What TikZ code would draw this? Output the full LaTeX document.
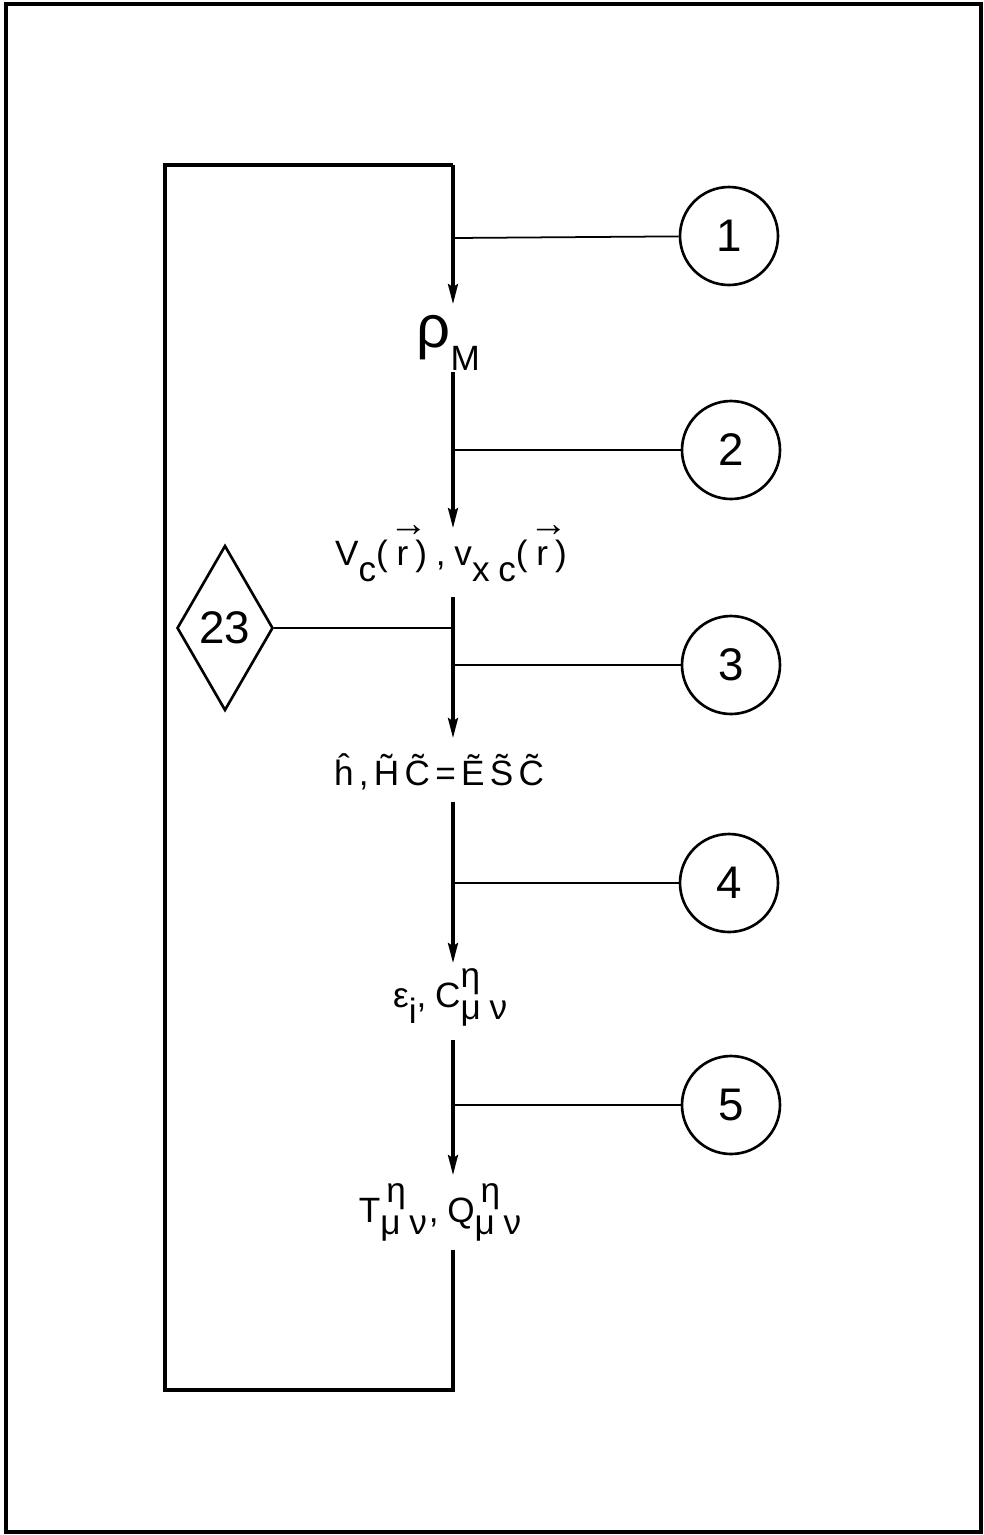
\documentclass[tikz,border=0pt]{standalone}
\usepackage{fontspec}
\setmainfont{Liberation Sans}
\usetikzlibrary{arrows.meta,shapes.geometric}
\newcommand\vr{\makebox[0pt][l]{\hspace{-0.2em}\raisebox{1.55ex}{\fontsize{11}{11}\selectfont →}}r}
\begin{document}
\begin{tikzpicture}[x=0.01cm,y=-0.01cm,
  mainline/.style={line width=0.9pt},
  flowarrow/.style={mainline,-{Stealth[length=20*0.01cm,width=10*0.01cm,inset=3*0.01cm]}},
  link/.style={line width=0.5pt},
  numcircle/.style={draw,circle,line width=0.75pt,minimum size=98*0.01cm,inner sep=0pt,font=\fontsize{13}{13}\selectfont},
  qty/.style={inner sep=0pt,anchor=base,font=\fontsize{10}{12}\selectfont\addfontfeature{LetterSpace=25}},
  refdiamond/.style={draw,diamond,line width=0.75pt,minimum width=96*0.01cm,minimum height=165*0.01cm,inner sep=0pt,aspect=0.58,font=\fontsize{13}{13}\selectfont}]
\useasboundingbox (0,0) rectangle (984,1535);
\draw[line width=1pt] (6,4) rectangle (981,1532);
% loop corners
\coordinate (tl) at (165,165);
\coordinate (tr) at (453,165);
\coordinate (bl) at (165,1390);
\coordinate (br) at (453,1390);
% quantities
\node[qty,anchor=base west] (rho) at (416,347) {\fontsize{17}{17}\selectfont ρ\raisebox{-0.75ex}{\fontsize{10}{12}\selectfont M}};
\node[qty] (vc) at (451,565) {V\raisebox{-0.9ex}{c}(\hspace{0.25em}\vr\hspace{0.2em}),v\raisebox{-0.9ex}{xc}(\hspace{0.25em}\vr\hspace{0.2em})};
\node[qty,font=\fontsize{10}{12}\selectfont\addfontfeature{LetterSpace=15}] (h) at (439,785) {\^{h},\~{H}\~{C}=\~{E}\~{S}\~{C}};
\node[qty] (eps) at (451,1007) {ε\raisebox{-0.9ex}{i},C$^{\mbox{η}}_{\mbox{μν}}$};
\node[qty] (tq) at (441,1222) {T$^{\mbox{\,η}}_{\mbox{μν}}$,Q$^{\mbox{\,η}}_{\mbox{μν}}$};
% arrow ends and segment starts
\coordinate (a1) at (453,304);
\coordinate (s2) at (453,372);
\coordinate (a2) at (453,528);
\coordinate (s3) at (453,597);
\coordinate (a3) at (453,738);
\coordinate (s4) at (453,802);
\coordinate (a4) at (453,963);
\coordinate (s5) at (453,1040);
\coordinate (a5) at (453,1175);
\coordinate (s6) at (453,1250);
% loop
\draw[mainline] (s6) -- (br) -- (bl) -- (tl) -- (tr);
\draw[flowarrow] (tr) -- (a1);
\draw[flowarrow] (s2) -- (a2);
\draw[flowarrow] (s3) -- (a3);
\draw[flowarrow] (s4) -- (a4);
\draw[flowarrow] (s5) -- (a5);
% circles
\node[numcircle] (c1) at (729,236) {1};
\node[numcircle] (c2) at (731,450) {2};
\node[numcircle] (c3) at (731,665) {3};
\node[numcircle] (c4) at (729,883) {4};
\node[numcircle] (c5) at (731,1105) {5};
\coordinate (j1) at (453,238);
\coordinate (j2) at (453,450);
\coordinate (j3) at (453,665);
\coordinate (j4) at (453,883);
\coordinate (j5) at (453,1105);
\draw[link] (j1) -- (c1);
\draw[link] (j2) -- (c2);
\draw[link] (j3) -- (c3);
\draw[link] (j4) -- (c4);
\draw[link] (j5) -- (c5);
% diamond
\node[refdiamond] (d23) at (225,628) {23};
\coordinate (jd) at (453,628);
\draw[link] (d23.east) -- (jd);
\end{tikzpicture}
\end{document}
